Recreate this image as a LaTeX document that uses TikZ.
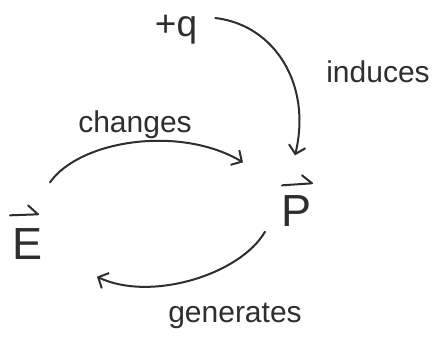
\documentclass[tikz,border=0pt]{standalone}
\usepackage{fontspec}
\setmainfont{Liberation Sans}
\usetikzlibrary{arrows.meta}
\definecolor{ink}{HTML}{2E2E2E}
\tikzset{
  lbl/.style={text=ink, inner sep=0pt, font=\fontsize{30}{32}\selectfont},
  sym/.style={text=ink, inner sep=0pt, font=\fontsize{45}{45}\selectfont},
  harp/.style={draw=ink, line width=2pt, line cap=round, line join=round},
  arr/.style={draw=ink, line width=2pt, line cap=round,
    -{Straight Barb[length=8pt,width=17pt,line width=2pt]}}
}
\begin{document}
\begin{tikzpicture}[x=1pt,y=-1pt]
\useasboundingbox[fill=white] (0,0) rectangle (439,350);
\node[lbl, font=\fontsize{37}{40}\selectfont] (q) at (176,30) {+q};
\node[sym] (P) at (297,211) {P};
\node[sym] (E) at (28,244) {E};
\node[lbl] (ind) at (378,72) {induces};
\node[lbl] (chg) at (135,125) {changes};
\node[lbl] (gen) at (235,316) {generates};
% vector harpoons
\draw[harp] ([xshift=-15pt,yshift=10pt]P.north) -- ([xshift=15pt,yshift=12pt]P.north) -- ([xshift=5pt,yshift=20pt]P.north);
\draw[harp] ([xshift=-18pt,yshift=13pt]E.north) -- ([xshift=10pt,yshift=14pt]E.north) -- ([xshift=0pt,yshift=23pt]E.north);
% connectors
\draw[arr] ([xshift=18pt,yshift=12pt]q.east) .. controls (275,25) and (312,85) .. ([xshift=-2pt,yshift=40pt]P.north);
\draw[arr] ([xshift=22pt,yshift=46pt]E.north) .. controls (80,140) and (180,125) .. ([xshift=-54pt,yshift=33pt]P.north);
\draw[arr] ([xshift=-32pt,yshift=-5pt]P.south) .. controls (240,275) and (150,302) .. ([xshift=69pt,yshift=-17pt]E.south);
\end{tikzpicture}
\end{document}
